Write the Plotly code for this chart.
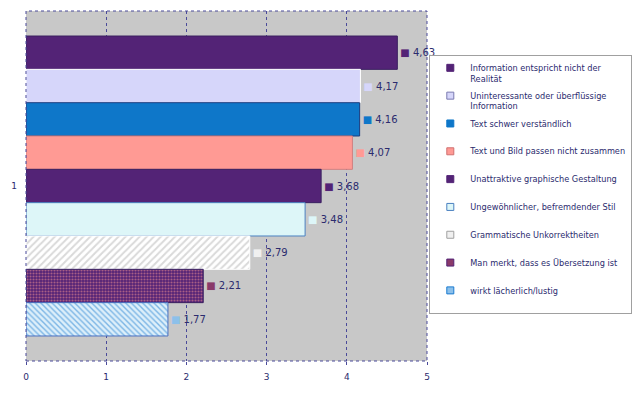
import plotly.graph_objects as go

categories = ["1"]
series_names = [
    "Information entspricht nicht der<br>Realität",
    "Uninteressante oder überflüssige<br>Information",
    "Text schwer verständlich<br> ",
    "Text und Bild passen nicht zusammen<br> ",
    "Unattraktive graphische Gestaltung<br> ",
    "Ungewöhnlicher, befremdender Stil<br> ",
    "Grammatische Unkorrektheiten<br> ",
    "Man merkt, dass es Übersetzung ist<br> ",
    "wirkt lächerlich/lustig<br> ",
]
values = [4.63, 4.17, 4.16, 4.07, 3.68, 3.48, 2.79, 2.21, 1.77]
x_ticks = [0, 1, 2, 3, 4, 5]

colors = ["#532376", "#D6D6FA", "#0E77C9", "#FF9A94", "#532376",
          "#DDF6F8", "#FFFFFF", "#532376", "#D8ECF8"]
patterns = [None, None, None, None, None, None,
            dict(shape="/", fgcolor="#B4B4B4", bgcolor="#FFFFFF", size=5, solidity=0.4),
            dict(shape=".", fgcolor="#FF9A94", bgcolor="#532376", size=3, solidity=0.4),
            dict(shape="\\", fgcolor="#1A7BD0", bgcolor="#DDEFFA", size=4, solidity=0.35)]
line_colors = ["#3a2060", "#FFFFFF", "#1a3c80", "#d08080", "#3a2060",
               "#4a80c0", "#FFFFFF", "#3a2060", "#4a70c0"]
legend_colors = ["#532376", "#D6D6FA", "#0E77C9", "#FF9A94", "#532376",
                 "#DDF6F8", "#F0F0F0", "#8A3A6A", "#8CC0EA"]
legend_lines = ["#532376", "#7a7ab0", "#0E77C9", "#d07070", "#532376",
                "#4a80c0", "#a0a0a0", "#532376", "#1A7BD0"]

text_color = "#2B2B6E"

fig = go.Figure()
for i, (name, v) in enumerate(zip(series_names, values)):
    marker = dict(color=colors[i], line=dict(color=line_colors[i], width=1))
    if patterns[i] is not None:
        marker["pattern"] = patterns[i]
    fig.add_trace(go.Bar(
        x=[v], y=categories, orientation="h", name=name,
        showlegend=False,
        marker=marker,
        texttemplate='<span style="color:' + legend_colors[i] + '">■</span> %{x:.2f}',
        textposition="outside", cliponaxis=False,
        textfont=dict(color=text_color, size=10, family="DejaVu Sans"),
        hoverinfo="skip",
    ))
# legend entries with small square keys
for i, name in enumerate(series_names):
    fig.add_trace(go.Scatter(
        x=[None], y=[None], mode="markers", name=name,
        legendgroup=f"g{i}",
        marker=dict(symbol="square", size=7, color=legend_colors[i],
                    line=dict(color=legend_lines[i], width=1)),
        hoverinfo="skip",
    ))

fig.update_layout(
    width=638, height=396,
    margin=dict(l=26, r=211, t=11, b=35, autoexpand=False),
    paper_bgcolor="white", plot_bgcolor="#C8C8C8",
    barmode="group", bargap=0.143, bargroupgap=0,
    separators=",.",
    font=dict(family="DejaVu Sans", color=text_color, size=9),
    showlegend=True,
    legend=dict(
        x=(429 - 26) / 400.7, xanchor="left", y=(361 - 55) / 350, yanchor="top",
        bgcolor="white", bordercolor="#A0A0A0", borderwidth=1,
        font=dict(size=8.2, color=text_color, family="DejaVu Sans"),
        tracegroupgap=3.5, valign="top", traceorder="grouped",
        itemwidth=30, maxheight=380,
    ),
)
fig.update_xaxes(
    range=[0, 5], tickvals=x_ticks, ticktext=[str(t) for t in x_ticks],
    showgrid=True, gridcolor="#4a4a9a", griddash="dot", gridwidth=1,
    zeroline=False, ticks="outside", ticklen=3, tickcolor="#4a4a9a",
    tickfont=dict(size=9, color=text_color), ticklabelstandoff=4,
)
fig.update_yaxes(
    type="category", autorange="reversed", showgrid=False,
    tickfont=dict(size=9, color=text_color), ticklen=0, ticklabelstandoff=8,
)
fig.add_shape(type="rect", xref="paper", yref="paper", x0=0, x1=1, y0=0, y1=1,
              line=dict(color="#4a4a9a", width=1, dash="dot"), layer="above")

fig.write_html("out.html", config={"displayModeBar": False},
               post_script="document.body.style.margin='0';")
